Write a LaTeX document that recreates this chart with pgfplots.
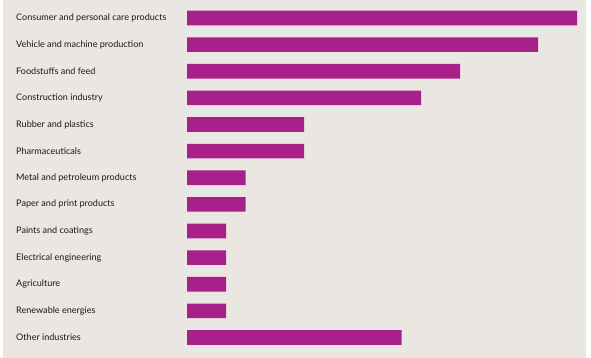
\documentclass[border=0pt]{standalone}
\usepackage{pgfplots}
\pgfplotsset{compat=1.18}
\usepackage{fontspec}
\setmainfont{Lato}
\definecolor{bgc}{RGB}{234,231,227}
\definecolor{barc}{RGB}{168,33,138}
\definecolor{txt}{RGB}{25,25,25}
\begin{document}
\begin{tikzpicture}
\useasboundingbox (0,0) rectangle (591bp,358bp);
\fill[white] (0,0) rectangle (591bp,358bp);
\fill[bgc] (3bp,0) rectangle (586bp,358bp);
\begin{axis}[
  at={(187bp,0)}, anchor=south west,
  scale only axis, width=399bp, height=358bp,
  xmin=0, xmax=20.46,
  ymin=-0.676, ymax=12.77, y dir=reverse,
  xbar, bar width=0.55, bar shift=0pt,
  axis line style={draw=none}, major tick length=0pt,
  xtick=\empty,
  ytick={0,...,12},
  yticklabels={Consumer and personal care products, Vehicle and machine production, Foodstuffs and feed, Construction industry, Rubber and plastics, Pharmaceuticals, Metal and petroleum products, Paper and print products, Paints and coatings, Electrical engineering, Agriculture, Renewable energies, Other industries},
  yticklabel style={anchor=west, xshift=-171bp, inner sep=0pt, font=\fontsize{9.1}{11}\selectfont, text=txt},
]
\addplot[fill=barc, draw=none] coordinates {
(20,0) (18,1) (14,2) (12,3) (6,4) (6,5) (3,6) (3,7) (2,8) (2,9) (2,10) (2,11) (11,12)
};
\end{axis}
\end{tikzpicture}
\end{document}
